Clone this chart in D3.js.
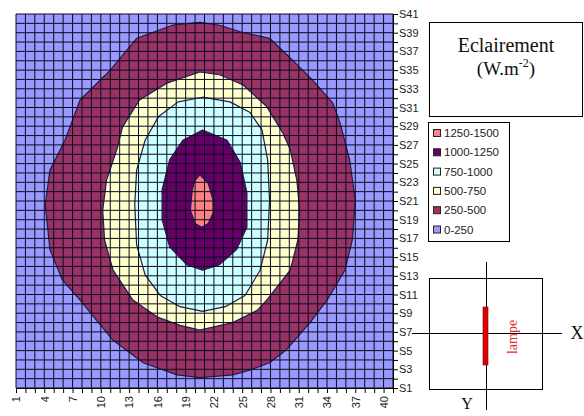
<!DOCTYPE html>
<html>
<head>
<meta charset="utf-8">
<script src="https://cdn.jsdelivr.net/npm/d3@7/dist/d3.min.js"></script>
<style>
  html, body { margin: 0; padding: 0; background: #ffffff; }
  svg { display: block; }
</style>
</head>
<body>
<svg id="chart" width="584" height="416"></svg>
<script>
// ---- Data -------------------------------------------------------------
// Grid categories: columns 1..40 along X, series S1..S41 along Y
const columns = d3.range(1, 41);
const seriesRows = d3.range(1, 42);
const xTickLabels = [1, 4, 7, 10, 13, 16, 19, 22, 25, 28, 31, 34, 37, 40];
const yTickLabels = [1, 3, 5, 7, 9, 11, 13, 15, 17, 19, 21, 23, 25, 27, 29, 31, 33, 35, 37, 39, 41];

// Illuminance bands (W.m-2) and their fills
const bandLabels = ["0-250", "250-500", "500-750", "750-1000", "1000-1250", "1250-1500"];
const bandColors = ["#9999ff", "#993366", "#ffffcc", "#ccffff", "#660066", "#ff8080"];

// Iso-illuminance contours, as [column, series] vertices
const iso250 = [
  [20.5, 40.1], [22.6, 39.8], [24.8, 39.1], [27.9, 38.4], [30.1, 36.3], [32.5, 33.9],
  [34.6, 31.5], [35.4, 29.3], [36.4, 25.4], [37.0, 21.1], [36.7, 16.9], [35.9, 13.6],
  [34.0, 10.4], [32.2, 8.0], [29.7, 5.1], [27.9, 3.7], [25.8, 2.9], [24.0, 2.4],
  [20.5, 2.1], [18.1, 2.4], [14.5, 3.7], [11.3, 6.1], [7.8, 10.4], [5.9, 12.6],
  [4.6, 15.8], [4.1, 20.6], [4.6, 24.3], [6.2, 27.5], [7.8, 31.8], [11.0, 35.0],
  [13.8, 38.4], [17.6, 39.8]
];
const iso500 = [
  [20.5, 34.8], [22.6, 34.5], [25.1, 33.4], [27.6, 31.1], [29.3, 28.3], [30.1, 26.5],
  [30.8, 23.2], [31.1, 20.0], [30.9, 16.8], [30.1, 13.6], [27.6, 10.4], [26.6, 9.3],
  [24.0, 8.0], [20.5, 7.2], [18.4, 7.7], [16.0, 8.6], [13.4, 10.4], [11.3, 13.6],
  [10.4, 16.8], [10.2, 20.0], [10.6, 23.2], [11.7, 26.5], [12.3, 28.9], [14.1, 31.8],
  [17.0, 33.6]
];
const iso750 = [
  [20.8, 32.1], [23.7, 31.6], [25.8, 30.5], [27.1, 28.6], [27.7, 25.4], [27.9, 21.1],
  [27.7, 16.8], [26.9, 13.6], [25.3, 10.9], [23.2, 9.7], [20.8, 9.2], [18.4, 9.7],
  [16.3, 10.9], [14.7, 13.1], [13.8, 16.3], [13.6, 20.6], [13.8, 24.3], [14.7, 27.5],
  [16.1, 30.0], [18.2, 31.6]
];
const iso1000 = [
  [20.8, 28.6], [23.4, 27.5], [24.8, 25.1], [25.5, 21.9], [25.5, 18.2], [24.4, 15.8],
  [22.6, 14.2], [20.8, 13.6], [19.1, 14.2], [17.3, 16.1], [16.5, 19.0], [16.5, 22.2],
  [17.3, 25.4], [18.7, 27.5]
];
const iso1250 = [
  [20.5, 23.8], [21.4, 22.9], [21.9, 21.1], [21.9, 19.7], [21.4, 18.6], [20.7, 18.2],
  [20.0, 18.6], [19.5, 20.0], [19.7, 22.2], [20.0, 23.2]
];
const contours = [iso250, iso500, iso750, iso1000, iso1250];

// ---- Layout -----------------------------------------------------------
const svg = d3.select("#chart");
const plot = { left: 16, right: 393, top: 14, bottom: 388 };

const x = d3.scaleLinear().domain([1, 41]).range([plot.left, plot.right]);
const y = d3.scaleLinear().domain([1, 41]).range([plot.bottom, plot.top]);

// Background band (lowest class)
svg.append("rect")
  .attr("x", x(1)).attr("y", y(41))
  .attr("width", x(41) - x(1)).attr("height", y(1) - y(41))
  .attr("fill", bandColors[0]);

// Filled contour bands, outermost first
const line = d3.line().x(d => x(d[0])).y(d => y(d[1])).curve(d3.curveLinearClosed);
svg.append("g").selectAll("path")
  .data(contours)
  .join("path")
  .attr("d", d => line(d))
  .attr("fill", (d, i) => bandColors[i + 1])
  .attr("stroke", "#1c1c50")
  .attr("stroke-width", 1.2)
  .attr("stroke-linejoin", "round");

// Data grid drawn over the surface
const gridCols = d3.range(1, 42);
const grid = svg.append("g").attr("stroke", "#0a0a1e").attr("stroke-width", 1);
grid.selectAll("line.v").data(gridCols).join("line").attr("class", "v")
  .attr("x1", d => x(d)).attr("x2", d => x(d))
  .attr("y1", y(41)).attr("y2", y(1));
grid.selectAll("line.h").data(seriesRows).join("line").attr("class", "h")
  .attr("x1", x(1)).attr("x2", x(41))
  .attr("y1", d => y(d)).attr("y2", d => y(d));

// Bottom category axis, rotated labels
const xAxis = d3.axisBottom(x)
  .tickValues(gridCols)
  .tickSize(5)
  .tickFormat(d => xTickLabels.includes(d) ? String(d) : "");
const gx = svg.append("g").attr("transform", `translate(0,${plot.bottom})`).call(xAxis);
gx.select(".domain").attr("stroke", "#000");
gx.selectAll(".tick line").attr("stroke", "#000");
gx.selectAll(".tick text")
  .attr("font-family", "Liberation Sans, Arial, sans-serif")
  .attr("font-size", 11)
  .attr("fill", "#222")
  .attr("text-anchor", "end")
  .attr("dy", "0.35em")
  .attr("transform", "rotate(-90)")
  .attr("x", -8)
  .attr("y", 0);

// Right series axis
const yAxis = d3.axisRight(y)
  .tickValues(seriesRows)
  .tickSize(5)
  .tickFormat(d => yTickLabels.includes(d) ? "S" + d : "");
const gy = svg.append("g").attr("transform", `translate(${plot.right},0)`).call(yAxis);
gy.select(".domain").attr("stroke", "#000");
gy.selectAll(".tick line").attr("stroke", "#000");
gy.selectAll(".tick text")
  .attr("font-family", "Liberation Sans, Arial, sans-serif")
  .attr("font-size", 11)
  .attr("fill", "#222")
  .attr("x", 6);

// Title box
svg.append("rect").attr("x", 429.5).attr("y", 22.5).attr("width", 153).attr("height", 94)
  .attr("fill", "#fff").attr("stroke", "#000");
svg.append("text").attr("x", 506).attr("y", 52)
  .attr("text-anchor", "middle")
  .attr("font-family", "Liberation Serif, Times New Roman, serif")
  .attr("font-size", 20).attr("fill", "#111")
  .text("Eclairement");
const unit = svg.append("text").attr("x", 506).attr("y", 75)
  .attr("text-anchor", "middle")
  .attr("font-family", "Liberation Serif, Times New Roman, serif")
  .attr("font-size", 19).attr("fill", "#111");
unit.append("tspan").text("(W.m");
unit.append("tspan").attr("dy", -8).attr("font-size", 12).text("-2");
unit.append("tspan").attr("dy", 8).text(")");

// Legend, highest band on top
const legend = svg.append("g");
legend.append("rect").attr("x", 428.5).attr("y", 122.5).attr("width", 81).attr("height", 119)
  .attr("fill", "#fff").attr("stroke", "#000");
const legendItems = legend.selectAll("g.item")
  .data(bandLabels.map((t, i) => ({ t, c: bandColors[i] })).reverse())
  .join("g").attr("class", "item")
  .attr("transform", (d, i) => `translate(433,${133 + i * 19.3})`);
legendItems.append("rect").attr("x", 0.5).attr("y", -3.5).attr("width", 7).attr("height", 7)
  .attr("fill", d => d.c).attr("stroke", "#222");
legendItems.append("text").attr("x", 11).attr("y", 0).attr("dy", "0.36em")
  .attr("font-family", "Liberation Sans, Arial, sans-serif")
  .attr("font-size", 11.5).attr("fill", "#222")
  .text(d => d.t);

// Lamp orientation sketch
const sketch = svg.append("g");
sketch.append("rect").attr("x", 429.5).attr("y", 278.5).attr("width", 113).attr("height", 111)
  .attr("fill", "#fff").attr("stroke", "#000");
sketch.append("line").attr("x1", 412).attr("x2", 562).attr("y1", 333.5).attr("y2", 333.5)
  .attr("stroke", "#000");
sketch.append("line").attr("x1", 486.5).attr("x2", 486.5).attr("y1", 262).attr("y2", 410)
  .attr("stroke", "#000");
sketch.append("rect").attr("x", 483).attr("y", 307).attr("width", 5).attr("height", 58)
  .attr("fill", "#e00000").attr("stroke", "#7a0000").attr("stroke-width", 0.6);
sketch.append("text").attr("transform", "translate(512,337) rotate(-90)")
  .attr("text-anchor", "middle").attr("dy", "0.35em")
  .attr("font-family", "Liberation Serif, Times New Roman, serif")
  .attr("font-size", 14).attr("fill", "#e03030")
  .text("lampe");
sketch.append("text").attr("x", 577).attr("y", 339)
  .attr("text-anchor", "middle")
  .attr("font-family", "Liberation Serif, Times New Roman, serif")
  .attr("font-size", 18).attr("fill", "#111")
  .text("X");
sketch.append("text").attr("x", 467).attr("y", 409)
  .attr("text-anchor", "middle")
  .attr("font-family", "Liberation Serif, Times New Roman, serif")
  .attr("font-size", 16).attr("fill", "#111")
  .text("Y");
</script>
</body>
</html>
